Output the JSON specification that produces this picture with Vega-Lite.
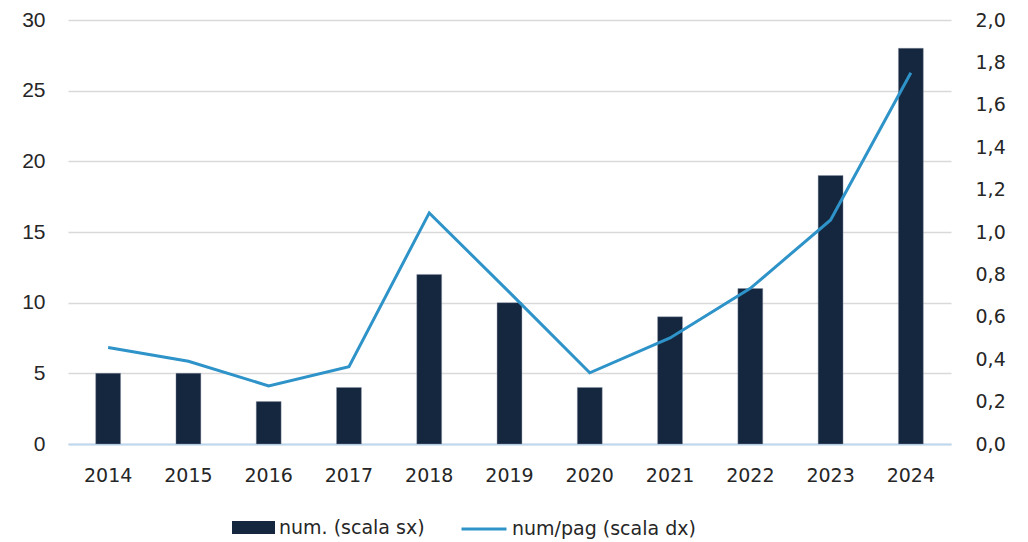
{
  "$schema": "https://vega.github.io/schema/vega-lite/v6.json",
  "autosize": "none",
  "width": 883,
  "height": 424,
  "padding": {"left": 68, "top": 20, "right": 77, "bottom": 98},
  "background": "white",
  "config": {
    "view": {"stroke": null},
    "locale": {"number": {"decimal": ",", "thousands": ".", "grouping": [3], "currency": ["€", ""]}},
    "axis": {"labelColor": "#262626", "ticks": false, "domain": false, "grid": false},
    "legend": {"labelColor": "#262626", "labelFont": "DejaVu Sans", "labelFontSize": 19, "labelLimit": 400}
  },
  "data": {"values": [
    {"anno": "2014", "num": 5, "ratio": 0.455},
    {"anno": "2015", "num": 5, "ratio": 0.39},
    {"anno": "2016", "num": 3, "ratio": 0.274},
    {"anno": "2017", "num": 4, "ratio": 0.365},
    {"anno": "2018", "num": 12, "ratio": 1.09},
    {"anno": "2019", "num": 10, "ratio": 0.715},
    {"anno": "2020", "num": 4, "ratio": 0.336},
    {"anno": "2021", "num": 9, "ratio": 0.50},
    {"anno": "2022", "num": 11, "ratio": 0.734},
    {"anno": "2023", "num": 19, "ratio": 1.057},
    {"anno": "2024", "num": 28, "ratio": 1.751}
  ]},
  "encoding": {
    "x": {"field": "anno", "type": "nominal", "sort": null,
      "scale": {"paddingInner": 0.69, "paddingOuter": 0.345},
      "axis": {"title": null, "labelAngle": 0, "labelFont": "DejaVu Sans", "labelFontSize": 19, "labelPadding": 22,
        "domain": true, "domainColor": "#BDD7EE", "domainWidth": 2}}
  },
  "layer": [
    {
      "mark": {"type": "bar", "stroke": "#8A94A6", "strokeWidth": 0.4},
      "encoding": {
        "y": {"field": "num", "type": "quantitative", "scale": {"domain": [0, 30]},
          "axis": {"title": null, "values": [0, 5, 10, 15, 20, 25, 30], "grid": true, "gridColor": "#D9D9D9", "gridWidth": 1.5,
            "labelFont": "Liberation Sans", "labelFontSize": 21, "labelPadding": 23}},
        "fill": {"datum": "num. (scala sx)", "type": "nominal",
          "scale": {"range": ["#15263F"]},
          "legend": {"title": null, "orient": "none", "legendX": 164, "legendY": 486,
            "symbolType": "M-1,-0.3h2v0.6h-2z", "symbolSize": 1849, "symbolStrokeWidth": 0, "labelOffset": 4}}
      }
    },
    {
      "mark": {"type": "line", "strokeWidth": 3},
      "encoding": {
        "y": {"field": "ratio", "type": "quantitative", "scale": {"domain": [0, 2]},
          "axis": {"title": null, "orient": "right", "values": [0, 0.2, 0.4, 0.6, 0.8, 1, 1.2, 1.4, 1.6, 1.8, 2], "format": ".1f",
            "labelFont": "DejaVu Sans", "labelFontSize": 19, "labelPadding": 24}},
        "stroke": {"datum": "num/pag (scala dx)", "type": "nominal",
          "scale": {"range": ["#2E93C8"]},
          "legend": {"title": null, "orient": "none", "legendX": 392, "legendY": 485,
            "symbolType": "stroke", "symbolSize": 2025, "symbolStrokeWidth": 3, "labelOffset": 4}}
      }
    }
  ],
  "resolve": {"scale": {"y": "independent"}}
}
